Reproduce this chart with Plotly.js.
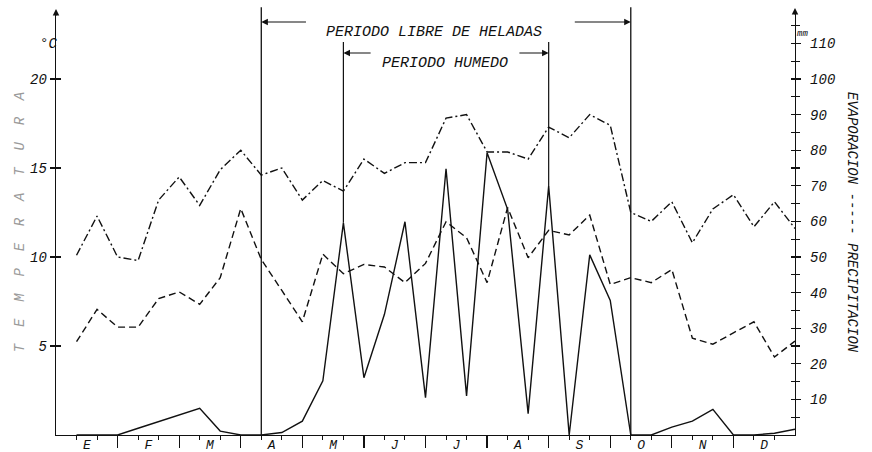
<!DOCTYPE html>
<html>
<head>
<meta charset="utf-8">
<script src="https://cdn.plot.ly/plotly-3.0.1.min.js"></script>
<style>html,body{margin:0;padding:0;background:#fff;}#chart{width:872px;height:452px;}</style>
</head>
<body>
<div id="chart"></div>
<script>
// Month labels (E = Enero ... D = Diciembre), 3 decades (10-day periods) per month
var months = ['E','F','M','A','M','J','J','A','S','O','N','D'];

// Temperature (°C) per decade, dash-dot line, left axis
var temperatura = [10.1, 12.3, 10.0, 9.8, 13.2, 14.5, 12.9, 14.9, 16.0,
                   14.6, 15.0, 13.2, 14.3, 13.7, 15.5, 14.7, 15.3, 15.3,
                   17.8, 18.0, 15.9, 15.9, 15.5, 17.3, 16.7, 18.0, 17.4,
                   12.5, 12.0, 13.1, 10.8, 12.7, 13.5, 11.7, 13.1, 11.6];

// Evaporation (mm) per decade, dashed line, right axis
var evaporacion = [26.2, 35.3, 30.3, 30.3, 38.3, 40.2, 36.7, 44.2, 63.6,
                   49.3, 40.6, 31.8, 50.8, 45.3, 47.9, 47.2, 42.8, 48.2,
                   59.9, 55.4, 42.8, 63.9, 49.8, 57.5, 56.2, 61.8, 42.3,
                   44.2, 42.8, 46.5, 27.2, 25.5, 28.7, 31.8, 21.9, 26.4];

// Precipitation (mm) per decade, solid line, right axis
var precipitacion = [0, 0, 0, 1.9, 3.8, 5.6, 7.5, 1.1, 0,
                     0, 0.7, 3.9, 15.2, 59.6, 16.1, 33.9, 59.9, 10.5,
                     74.8, 11.0, 79.3, 63.4, 6.0, 69.9, 0, 50.6, 37.8,
                     0, 0, 2.2, 3.9, 7.2, 0, 0, 0.5, 1.6];

// Period limits (decade index)
var periodoLibreHeladas = [10, 28];
var periodoHumedo = [14, 24];

var leftTicks = [5, 10, 15, 20];
var rightTicks = [10, 20, 30, 40, 50, 60, 70, 80, 90, 100, 110];

// ---------- build ----------
var nDec = temperatura.length;
var xs = temperatura.map(function (_, i) { return i + 1; });
var tMax = 23.82, mmPerC = 5, mmMax = tMax * mmPerC;

var monthCenters = months.map(function (_, i) { return i * 3 + 1.5; });
var monthBounds = []; for (var b = 3; b < nDec; b += 3) monthBounds.push(b);
var minorX = []; for (var m = 1; m < nDec; m++) if (m % 3 !== 0) minorX.push(m);
var minorR = []; for (var r = 5; r < mmMax; r += 10) minorR.push(r);

var MONO = '"Liberation Mono", "DejaVu Sans Mono", monospace';
var ink = '#111';

var traces = [
  { x: xs, y: precipitacion, yaxis: 'y2', type: 'scatter', mode: 'lines',
    line: { color: ink, width: 1.4 }, name: 'PRECIPITACION', hoverinfo: 'skip' },
  { x: xs, y: evaporacion, yaxis: 'y2', type: 'scatter', mode: 'lines',
    line: { color: ink, width: 1.4, dash: '7px,4px' }, name: 'EVAPORACION', hoverinfo: 'skip' },
  { x: xs, y: temperatura, yaxis: 'y', type: 'scatter', mode: 'lines',
    line: { color: ink, width: 1.4, dash: '8px,3px,2px,3px' }, name: 'TEMPERATURA', hoverinfo: 'skip' }
];

var pxTopFrac = function (px) { return (435 - px) / 424; };

var shapes = [];
periodoLibreHeladas.forEach(function (d) {
  shapes.push({ type: 'line', xref: 'x', yref: 'paper', x0: d, x1: d, y0: 0, y1: 1.009,
                line: { color: ink, width: 1.3 } });
});
periodoHumedo.forEach(function (d) {
  shapes.push({ type: 'line', xref: 'x', yref: 'y2', x0: d, x1: d,
                y0: precipitacion[d - 1], y1: mmMax * 0.927,
                line: { color: ink, width: 1.2 } });
});

var yFrost = pxTopFrac(22), yHum = pxTopFrac(53);
var lblFont = { family: MONO, size: 15, color: ink, style: 'italic' };
var annotations = [
  { xref: 'x', yref: 'paper', x: 18.4, y: yFrost, text: 'PERIODO LIBRE DE HELADAS',
    showarrow: false, font: lblFont },
  { xref: 'x', yref: 'paper', x: periodoLibreHeladas[0], y: yFrost, axref: 'x', ayref: 'pixel',
    ax: 12.25, ay: 0, text: '', showarrow: true, arrowhead: 2, arrowsize: 1.2, arrowwidth: 1.1, arrowcolor: ink },
  { xref: 'x', yref: 'paper', x: periodoLibreHeladas[1], y: yFrost, axref: 'x', ayref: 'pixel',
    ax: 25.2, ay: 0, text: '', showarrow: true, arrowhead: 2, arrowsize: 1.2, arrowwidth: 1.1, arrowcolor: ink },
  { xref: 'x', yref: 'paper', x: 18.95, y: yHum, text: 'PERIODO HUMEDO',
    showarrow: false, font: lblFont },
  { xref: 'x', yref: 'paper', x: periodoHumedo[0], y: yHum, axref: 'x', ayref: 'pixel',
    ax: 15.4, ay: 0, text: '', showarrow: true, arrowhead: 2, arrowsize: 1.2, arrowwidth: 1.1, arrowcolor: ink },
  { xref: 'x', yref: 'paper', x: periodoHumedo[1], y: yHum, axref: 'x', ayref: 'pixel',
    ax: 22.5, ay: 0, text: '', showarrow: true, arrowhead: 2, arrowsize: 1.2, arrowwidth: 1.1, arrowcolor: ink },
  { xref: 'paper', yref: 'paper', x: -0.025, y: pxTopFrac(34), text: '°C', showarrow: false,
    font: { family: MONO, size: 14, color: ink, style: 'italic' } },
  { xref: 'paper', yref: 'paper', x: 1.02, y: pxTopFrac(27), text: 'mm', showarrow: false,
    font: { family: MONO, size: 9, color: ink, style: 'italic' } },
  { xref: 'paper', yref: 'paper', x: 1.091, y: pxTopFrac(222), text: 'EVAPORACION ----- PRECIPITACION',
    textangle: 90, showarrow: false, font: { family: MONO, size: 14, color: ink, style: 'italic' } },
  { xref: 'paper', yref: 'paper', x: -0.062, y: pxTopFrac(222),
    text: 'T\u00a0\u00a0E\u00a0\u00a0M\u00a0\u00a0P\u00a0\u00a0E\u00a0\u00a0R\u00a0\u00a0A\u00a0\u00a0T\u00a0\u00a0U\u00a0\u00a0R\u00a0\u00a0A',
    textangle: -90, showarrow: false, font: { family: MONO, size: 14, color: '#9a9a9a', style: 'italic' } },
  // axis arrow tips
  { xref: 'paper', yref: 'paper', x: 0, y: pxTopFrac(9), ax: 0, ay: 8, text: '', showarrow: true,
    arrowhead: 2, arrowsize: 1, arrowwidth: 1.3, arrowcolor: ink },
  { xref: 'paper', yref: 'paper', x: 1, y: pxTopFrac(8), ax: 0, ay: 8, text: '', showarrow: true,
    arrowhead: 2, arrowsize: 1, arrowwidth: 1.3, arrowcolor: ink }
];

var tickFont = { family: MONO, size: 14, color: ink, style: 'italic' };

var layout = {
  width: 872, height: 452,
  margin: { l: 56, r: 77, t: 11, b: 17, pad: 0 },
  paper_bgcolor: '#fff', plot_bgcolor: '#fff',
  showlegend: false,
  xaxis: {
    range: [0, nDec], showgrid: false, zeroline: false,
    showline: true, linecolor: ink, linewidth: 1.3,
    tickmode: 'array', tickvals: monthBounds, ticks: 'outside', ticklen: 12, tickcolor: ink, tickwidth: 1.3,
    showticklabels: false,
    minor: { tickmode: 'array', tickvals: minorX, ticks: 'outside', ticklen: 4, tickcolor: ink, tickwidth: 1, showgrid: false }
  },
  xaxis2: {
    overlaying: 'x', anchor: 'y', side: 'bottom', range: [0, nDec],
    showgrid: false, zeroline: false, showline: false,
    tickmode: 'array', tickvals: monthCenters, ticktext: months, ticks: '',
    ticklabelstandoff: 0,
    tickfont: { family: MONO, size: 13, color: ink, style: 'italic' }
  },
  yaxis: {
    range: [0, tMax], showgrid: false, zeroline: false,
    showline: true, linecolor: ink, linewidth: 1.3,
    tickmode: 'array', tickvals: leftTicks, ticks: 'outside', ticklen: 5, tickcolor: ink, tickwidth: 1.3,
    tickfont: tickFont
  },
  yaxis3: {
    overlaying: 'y', anchor: 'x', side: 'left', range: [0, tMax],
    showgrid: false, zeroline: false, showline: false, showticklabels: false,
    tickmode: 'array', tickvals: leftTicks, ticks: 'inside', ticklen: 5, tickcolor: ink, tickwidth: 1.3
  },
  yaxis2: {
    overlaying: 'y', anchor: 'x', side: 'right', range: [0, mmMax],
    showgrid: false, zeroline: false,
    showline: true, linecolor: ink, linewidth: 1.3,
    tickmode: 'array', tickvals: rightTicks, ticks: 'outside', ticklen: 5, tickcolor: ink, tickwidth: 1.3,
    ticklabelstandoff: 6,
    tickfont: tickFont,
    minor: { tickmode: 'array', tickvals: minorR, ticks: 'outside', ticklen: 4, tickcolor: ink, tickwidth: 1.1, showgrid: false }
  },
  yaxis4: {
    overlaying: 'y', anchor: 'x', side: 'right', range: [0, mmMax],
    showgrid: false, zeroline: false, showline: false, showticklabels: false,
    tickmode: 'linear', tick0: 0, dtick: 5, ticks: 'inside', ticklen: 4, tickcolor: ink, tickwidth: 1.1
  },
  shapes: shapes,
  annotations: annotations
};

// dummy traces to activate overlay axes
traces.push({ x: [null], y: [null], xaxis: 'x2', yaxis: 'y3', type: 'scatter', hoverinfo: 'skip', showlegend: false });
traces.push({ x: [null], y: [null], xaxis: 'x', yaxis: 'y4', type: 'scatter', hoverinfo: 'skip', showlegend: false });

Plotly.newPlot('chart', traces, layout, { staticPlot: true, displayModeBar: false });
</script>
</body>
</html>
